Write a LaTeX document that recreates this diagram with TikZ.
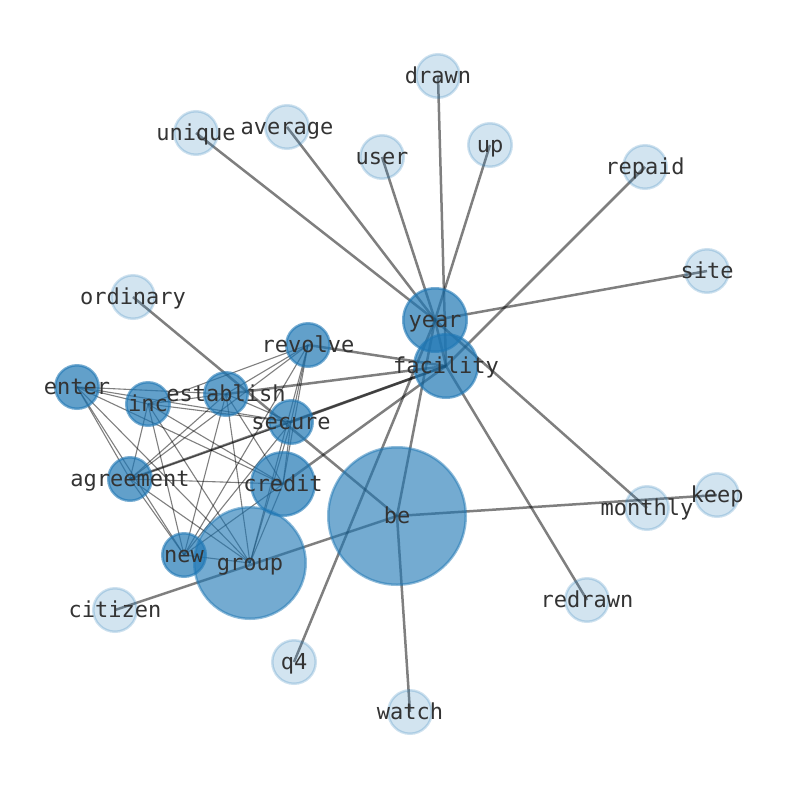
\documentclass[tikz,border=0pt]{standalone}
\usepackage{fontspec}
\setmonofont{DejaVu Sans Mono}
\usetikzlibrary{backgrounds}
\definecolor{nodeblue}{HTML}{1F77B4}
\definecolor{labelgray}{HTML}{333333}
\tikzset{
  word/.style={circle, inner sep=0pt, line width=2.5pt, draw=nodeblue, fill=nodeblue},
  rare/.style={word, minimum size=43.5pt, fill opacity=0.2, draw opacity=0.22},
  core/.style={word, minimum size=43.5pt, fill opacity=0.7, draw opacity=0.6},
  hub/.style={word, minimum size=63.5pt, fill opacity=0.7, draw opacity=0.6},
  mass/.style={word, fill opacity=0.62, draw opacity=0.5},
  wordtext/.style={inner sep=0pt, text height=20.5pt, text depth=5.1pt, text=labelgray,
    font=\ttfamily\fontsize{22}{22}\selectfont},
  link/.style={line width=2.5pt, black, opacity=0.5},
  tie/.style={line width=1.1pt, black, opacity=0.5}
}
\begin{document}
\begin{tikzpicture}[x=1pt, y=-1pt]
\useasboundingbox (0,0) rectangle (794,790);
\node (drawn) [rare] at (438,76) {};
\node (up) [rare] at (490,145) {};
\node (user) [rare] at (382,157) {};
\node (average) [rare] at (287,127) {};
\node (unique) [rare] at (196,133) {};
\node (repaid) [rare] at (645,167) {};
\node (site) [rare] at (707,271) {};
\node (ordinary) [rare] at (133,297) {};
\node (monthly) [rare] at (647,508) {};
\node (keep) [rare] at (717,495) {};
\node (citizen) [rare] at (115,610) {};
\node (redrawn) [rare] at (587,600) {};
\node (q4) [rare] at (294,662) {};
\node (watch) [rare] at (410,712) {};
\node (be) [mass, minimum size=137.5pt] at (397,516) {};
\node (group) [mass, minimum size=111.5pt] at (250,563) {};
\node (enter) [core] at (77,387) {};
\node (inc) [core] at (148,404) {};
\node (revolve) [core] at (308,345) {};
\node (secure) [core] at (291,422) {};
\node (agreement) [core] at (130,479) {};
\node (new) [core] at (184,555) {};
\node (credit) [hub] at (283,484) {};
\node (establish) [core] at (226,394) {};
\node (facility) [hub] at (446,366) {};
\node (year) [hub] at (435,320) {};
\begin{scope}[on background layer]
\foreach \a/\b in {enter/inc, enter/establish, enter/secure, enter/credit, enter/group,
    enter/new, enter/agreement, inc/establish, inc/secure, inc/credit, inc/group,
    inc/new, inc/agreement, inc/revolve, establish/secure, establish/credit,
    establish/new, establish/agreement, establish/group, establish/revolve,
    revolve/agreement, revolve/new, revolve/group, revolve/credit, revolve/secure,
    secure/agreement, secure/new, secure/credit, secure/group, agreement/credit,
    agreement/new, agreement/group, credit/new, credit/group, new/group}
  \draw[tie] (\a.center) -- (\b.center);
\foreach \a/\b in {year/unique, year/average, year/user, year/up, year/site,
    year/monthly, year/be, year/q4, year/facility, facility/drawn, facility/repaid,
    facility/redrawn, facility/revolve, facility/establish, facility/secure,
    facility/agreement, facility/credit, be/ordinary, be/citizen, be/keep, be/watch}
  \draw[link] (\a.center) -- (\b.center);
\end{scope}
\foreach \n in {drawn, up, user, average, unique, repaid, site, ordinary, monthly,
    keep, citizen, redrawn, q4, watch, be, group, enter, inc, revolve, secure,
    agreement, new, credit, establish, facility, year}
  \node (\n-text) [wordtext] at (\n) {\n};
\end{tikzpicture}
\end{document}
